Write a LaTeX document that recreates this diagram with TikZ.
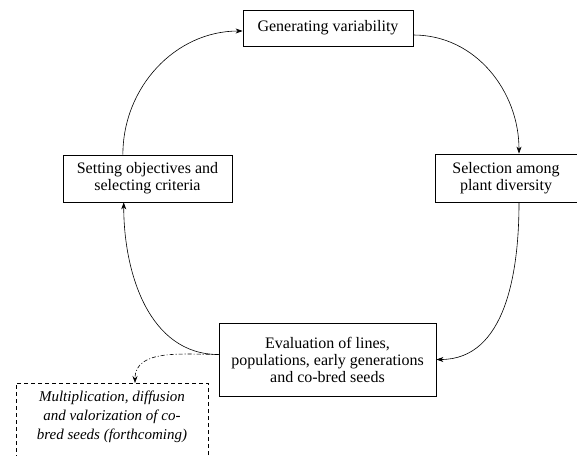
\documentclass[tikz,border=0pt]{standalone}
\usepackage{fontspec}
\setmainfont{Liberation Serif}
\usetikzlibrary{arrows.meta,calc,positioning}

\begin{document}
\begin{tikzpicture}[x=1pt, y=-1pt,
  stepbox/.style={draw, thick, align=center, inner sep=2pt, font=\fontsize{16}{17}\selectfont},
  notebox/.style={draw, dashed, dash pattern=on 4pt off 3pt, align=center, inner sep=2pt,
    font=\fontsize{15}{19}\selectfont\itshape},
  cyc/.style={-{Stealth[length=7pt,width=5pt]}, semithick}]
\clip (0,0) rectangle (577,455);
%--- boxes ---
\node[stepbox, minimum width=170pt, minimum height=36pt] (gen) at (328,28) {Generating variability};
\node[stepbox, minimum width=142pt, minimum height=48pt] (sel) at (506,178) {Selection among\\plant diversity};
\node[stepbox, minimum width=169pt, minimum height=47pt] (obj) at (147.5,178.5) {Setting objectives and\\selecting criteria};
\node[stepbox, minimum width=217pt, minimum height=73pt] (eval) at (327.5,359.5) {Evaluation of lines,\\populations, early generations\\and co-bred seeds};
% note (cut by the page)
\node[notebox, minimum width=192pt, minimum height=90pt, anchor=north] (mult) at (112,383)
  {Multiplication, diffusion\\and valorization of co-\\bred seeds (forthcoming)\\[6pt]};
%--- cycle ---
\coordinate (objtop) at ($(obj.north west)!0.355!(obj.north east)$);
\coordinate (objbot) at ($(obj.south west)!0.36!(obj.south east)$);
\coordinate (genout) at ($(gen.east)+(0,7)$);
\coordinate (seltop) at ($(sel.north)+(13,0)$);
\coordinate (selbot) at ($(sel.south)+(13,0)$);
\coordinate (evalout) at ($(eval.west)+(0,-5)$);
\draw[cyc] (objtop) to[out=90, in=180] ($(gen.west)+(0,3)$);
\draw[cyc] (genout) to[out=0, in=90] (seltop);
\draw[cyc] (selbot) to[out=-90, in=0] (eval.east);
\draw[cyc] (evalout) to[out=180, in=-90] (objbot);
% dissemination
\draw[cyc, dash pattern=on 4pt off 2pt on 1pt off 2pt] (evalout) to[out=180, in=90] ($(mult.north)+(23,0)$);
\end{tikzpicture}
\end{document}
